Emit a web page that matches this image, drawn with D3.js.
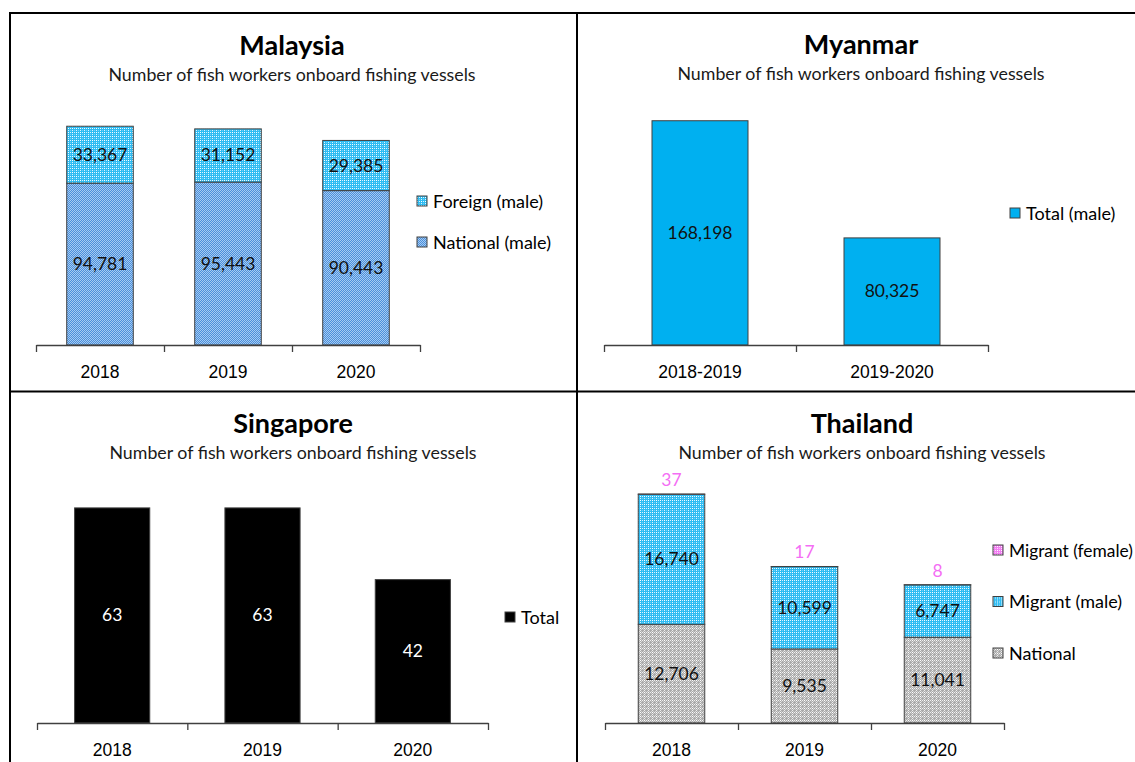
<!DOCTYPE html>
<html lang="en">
<head>
<meta charset="UTF-8">
<title>Fish workers onboard fishing vessels</title>
<script src="https://d3js.org/d3.v7.min.js"></script>
<style>
  body { margin: 0; background: #fff; }
  svg { display: block; font-family: Lato, "Open Sans", sans-serif; }
  .axis path, .axis line { stroke: #404040; stroke-width: 1.3; }
  .axis text { fill: #000; }
</style>
</head>
<body>
<div id="chart"></div>
<script>
// ---- data ----
const malaysiaYears = ["2018", "2019", "2020"];
const malaysiaNational = [94781, 95443, 90443];
const malaysiaForeign = [33367, 31152, 29385];

const myanmarPeriods = ["2018-2019", "2019-2020"];
const myanmarTotal = [168198, 80325];

const singaporeYears = ["2018", "2019", "2020"];
const singaporeTotal = [63, 63, 42];

const thailandYears = ["2018", "2019", "2020"];
const thailandNational = [12706, 9535, 11041];
const thailandMigrantMale = [16740, 10599, 6747];
const thailandMigrantFemale = [37, 17, 8];

const subtitle = "Number of fish workers onboard fishing vessels";

const width = 1135, height = 762;
const svg = d3.select("#chart").append("svg").attr("width", width).attr("height", height);
const fmt = d3.format(",");

// fill patterns (Excel style textured fills)
const defs = svg.append("defs");
function pattern(id, size, bg, dots) {
  const p = defs.append("pattern").attr("id", id).attr("patternUnits", "userSpaceOnUse")
    .attr("width", size).attr("height", size);
  p.append("rect").attr("width", size).attr("height", size).attr("fill", bg);
  dots.forEach(d => p.append("rect").attr("x", d[0]).attr("y", d[1]).attr("width", 1).attr("height", 1).attr("fill", d[2]));
}
pattern("pForeign", 4, "#2fbcf2", [[0, 0, "#fff"], [2, 0, "#d8f3ff"], [0, 2, "#d8f3ff"], [2, 2, "#6fd0f6"]]);
pattern("pNationalMy", 2, "#4a8fdb", [[0, 0, "#a6cbf2"], [1, 1, "#a6cbf2"]]);
pattern("pNationalTh", 4, "#aaaaaa", [[0, 0, "#fff"], [2, 0, "#eee"], [0, 2, "#eee"], [1, 1, "#d8d8d8"], [3, 3, "#d8d8d8"], [3, 1, "#cccccc"], [1, 3, "#cccccc"]]);
pattern("pFemale", 4, "#f27ef2", [[0, 0, "#fff"], [2, 0, "#fde0fd"], [0, 2, "#fde0fd"], [2, 2, "#f9b3f9"]]);

// panel frame
svg.append("path")
  .attr("d", `M10,${height} V13 H${width} M577,13 V${height} M10,391.5 H${width}`)
  .attr("fill", "none").attr("stroke", "#000").attr("stroke-width", 2);

function drawPanel(cfg) {
  const g = svg.append("g");
  const n = cfg.categories.length;

  g.append("text").attr("x", cfg.titleX).attr("y", cfg.titleY)
    .attr("text-anchor", "middle").attr("font-size", 27).attr("font-weight", "bold").text(cfg.title);
  g.append("text").attr("x", cfg.titleX).attr("y", cfg.titleY + 26)
    .attr("text-anchor", "middle").attr("font-size", 17.8).attr("fill", "#1a1a1a").text(subtitle);

  const x = d3.scaleBand().domain(cfg.categories).range([cfg.x0, cfg.x1])
    .paddingInner(cfg.pad).paddingOuter(cfg.pad / 2);
  const y = d3.scaleLinear().domain([0, cfg.max]).range([cfg.axisY, cfg.top]);

  const rows = cfg.categories.map((c, i) => {
    const r = { cat: c };
    cfg.series.forEach(s => r[s.key] = s.values[i]);
    return r;
  });
  const stacked = d3.stack().keys(cfg.series.map(s => s.key))(rows);

  stacked.forEach((layer, li) => {
    const s = cfg.series[li];
    g.append("g").selectAll("rect").data(layer).join("rect")
      .attr("x", d => x(d.data.cat))
      .attr("width", x.bandwidth())
      .attr("y", d => y(d[1]))
      .attr("height", d => y(d[0]) - y(d[1]))
      .attr("fill", s.fill)
      .attr("stroke", "#404040").attr("stroke-width", 1);

    g.append("g").selectAll("text").data(layer).join("text")
      .attr("x", d => x(d.data.cat) + x.bandwidth() / 2)
      .attr("y", d => s.above ? y(d[1]) - 8 : (y(d[0]) + y(d[1])) / 2 + 6)
      .attr("text-anchor", "middle")
      .attr("font-size", 17.5)
      .attr("fill", s.labelColor || "#111")
      .text(d => fmt(d.data[s.key]));
  });

  // tick marks between categories
  const edges = d3.scaleLinear().domain([0, n]).range([cfg.x0, cfg.x1]);
  g.append("g").attr("class", "axis").attr("transform", `translate(0,${cfg.axisY})`)
    .call(d3.axisBottom(edges).tickValues(d3.range(n + 1)).tickFormat("").tickSize(7).tickSizeOuter(0));
  // category labels
  const lab = g.append("g").attr("class", "axis").attr("transform", `translate(0,${cfg.axisY})`)
    .call(d3.axisBottom(x).tickSize(0).tickPadding(21));
  lab.select(".domain").remove();
  lab.selectAll("text").attr("font-family", null).attr("font-size", 17.5);

  // legend
  const legendItems = cfg.series.slice().reverse();
  const lg = g.append("g").selectAll("g").data(legendItems).join("g")
    .attr("transform", (d, i) => `translate(${cfg.legendX},${cfg.legendY + i * cfg.legendStep})`);
  lg.append("rect").attr("x", 0).attr("y", -5).attr("width", 10).attr("height", 10)
    .attr("fill", d => d.fill).attr("stroke", "#404040").attr("stroke-width", 1);
  lg.append("text").attr("x", 16).attr("y", 6.5).attr("font-size", 18).text(d => d.name)
    .each(function () {
      // shrink a legend text that would run past the right edge
      const room = width - 2 - cfg.legendX - 16;
      const len = this.getComputedTextLength();
      if (len > room) d3.select(this).attr("font-size", 18 * room / len);
    });
}

drawPanel({
  title: "Malaysia", titleX: 292, titleY: 55,
  categories: malaysiaYears, x0: 36, x1: 420, pad: 0.48,
  axisY: 345, top: 106, max: 140000,
  series: [
    { key: "national", name: "National (male)", values: malaysiaNational, fill: "url(#pNationalMy)" },
    { key: "foreign", name: "Foreign (male)", values: malaysiaForeign, fill: "url(#pForeign)" }
  ],
  legendX: 417, legendY: 201, legendStep: 41
});

drawPanel({
  title: "Myanmar", titleX: 861, titleY: 54,
  categories: myanmarPeriods, x0: 604, x1: 988, pad: 0.5,
  axisY: 345, top: 105, max: 180000,
  series: [
    { key: "total", name: "Total (male)", values: myanmarTotal, fill: "#00b0f0" }
  ],
  legendX: 1010, legendY: 213, legendStep: 0
});

drawPanel({
  title: "Singapore", titleX: 293, titleY: 433,
  categories: singaporeYears, x0: 37, x1: 488, pad: 0.5,
  axisY: 723, top: 484, max: 70,
  series: [
    { key: "total", name: "Total", values: singaporeTotal, fill: "#000", labelColor: "#fff" }
  ],
  legendX: 505, legendY: 617, legendStep: 0
});

drawPanel({
  title: "Thailand", titleX: 862, titleY: 433,
  categories: thailandYears, x0: 605, x1: 1004, pad: 0.5,
  axisY: 723, top: 490, max: 30000,
  series: [
    { key: "national", name: "National", values: thailandNational, fill: "url(#pNationalTh)" },
    { key: "male", name: "Migrant (male)", values: thailandMigrantMale, fill: "url(#pForeign)" },
    { key: "female", name: "Migrant (female)", values: thailandMigrantFemale, fill: "url(#pFemale)", above: true, labelColor: "#f46ef4" }
  ],
  legendX: 993, legendY: 550, legendStep: 51.5
});
</script>
</body>
</html>
